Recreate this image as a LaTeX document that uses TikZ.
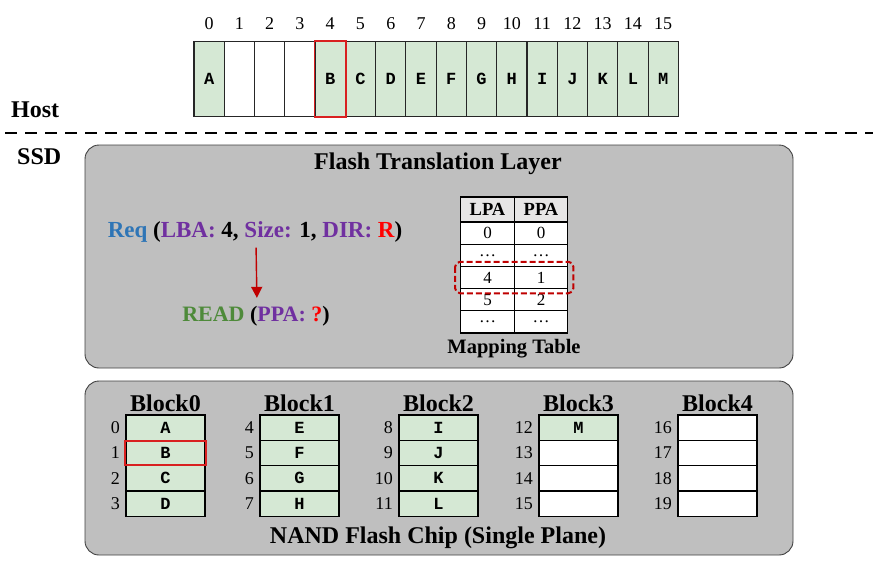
\documentclass[tikz,border=0pt]{standalone}
\usepackage{fontspec}
\setmainfont{Liberation Serif}
\setmonofont{Liberation Mono}
\usetikzlibrary{arrows.meta}
\definecolor{cellgreen}{HTML}{D5E8D4}
\definecolor{panelgray}{HTML}{BFBFBF}
\definecolor{hdrgray}{HTML}{E7E6E6}
\definecolor{reqblue}{HTML}{2E75B6}
\definecolor{purp}{HTML}{7030A0}
\definecolor{readgreen}{HTML}{4E8A3A}
\definecolor{darkred}{HTML}{C00000}
\definecolor{hilite}{HTML}{D92020}
\newcommand\pageletter[1]{\ifcase#1 A\or B\or C\or D\or E\or F\or G\or H\or I\or J\or K\or L\or M\else\fi}
\begin{document}
\begin{tikzpicture}[x=1pt,y=-1pt]
    \tikzstyle{hcell}=[draw=black!85,line width=1.1pt,minimum width=30.27pt,minimum height=75pt,inner sep=0pt,font=\ttfamily\bfseries\fontsize{17}{17}\selectfont]
    \tikzstyle{idx}=[inner sep=0pt,font=\fontsize{18}{18}\selectfont]
    \tikzstyle{panel}=[draw=black!75,line width=0.9pt,fill=panelgray,rounded corners=14pt,inner sep=0pt]
    \tikzstyle{title}=[inner sep=0pt,font=\bfseries\fontsize{24}{24}\selectfont]
    \tikzstyle{tcell}=[draw=black,line width=1.3pt,minimum width=53.5pt,inner sep=0pt,fill=white,font=\fontsize{17}{17}\selectfont]
    \tikzstyle{pcell}=[draw=black,line width=1.3pt,minimum width=79pt,minimum height=25.3pt,inner sep=0pt,font=\ttfamily\bfseries\fontsize{17}{17}\selectfont]
    \tikzstyle{redmark}=[draw=hilite,line width=1.8pt]
    \useasboundingbox (0,0) rectangle (892,566);
    % host logical space
    \foreach \i/\t/\f in {0/A/cellgreen,1//white,2//white,3//white,4/B/cellgreen,5/C/cellgreen,6/D/cellgreen,7/E/cellgreen,8/F/cellgreen,9/G/cellgreen,10/H/cellgreen,11/I/cellgreen,12/J/cellgreen,13/K/cellgreen,14/L/cellgreen,15/M/cellgreen}{
      \node[hcell,fill=\f] (h\i) at ({194+30.27*(\i+0.5)},79) {\t};
      \node[idx] (hn\i) at ({194+30.27*(\i+0.5)},24) {\i};
    }
    \draw[redmark] (h4.south west) rectangle (h4.north east);
    \node[title,anchor=west] (host) at (11,110) {Host};
    \node[title,anchor=west] (ssd) at (17,157) {SSD};
    \coordinate (dl) at (5,133);
    \coordinate (dr) at (873,133);
    \draw[line width=1.8pt,dash pattern=on 12pt off 8pt] (dl) -- (dr);
    % FTL
    \node[panel,minimum width=708pt,minimum height=223pt] (ftl) at (439,256.5) {};
    \node[title] (ftlt) at (438,164) {Flash Translation Layer};
    \node[title,font=\bfseries\fontsize{23}{23}\selectfont] (req) at (255,232) {{\color{reqblue}Req} ({\color{purp}LBA:} 4, {\color{purp}Size:} 1, {\color{purp}DIR:} {\color{red}R})};
    \node[title,font=\bfseries\fontsize{22}{22}\selectfont] (read) at (256,316) {{\color{readgreen}READ} ({\color{purp}PPA:} {\color{red}?})};
    \draw[darkred,line width=1.4pt,-{Triangle[width=11pt,length=11pt]},shorten <=5pt,shorten >=8pt] ([xshift=1pt]req.south) -- ([xshift=1pt]read.north);
    % mapping table
    \node[tcell,fill=hdrgray,minimum height=25pt,font=\bfseries\fontsize{18.5}{18.5}\selectfont] (lpa) at (487.5,209.5) {LPA};
    \node[tcell,fill=hdrgray,minimum height=25pt,font=\bfseries\fontsize{18.5}{18.5}\selectfont] (ppa) at (541,209.5) {PPA};
    \foreach \r/\a/\c in {0/0/0,1/…/…,2/4/1,3/5/2,4/…/…}{
      \node[tcell,minimum height=22.2pt] (t\r l) at (487.5,{222+22.2*(\r+0.5)}) {\a};
      \node[tcell,minimum height=22.2pt] (t\r r) at (541,{222+22.2*(\r+0.5)}) {\c};
    }
    \draw[darkred,line width=2pt,dash pattern=on 6pt off 3pt,rounded corners=5pt] ([xshift=-5pt,yshift=4pt]t2l.north west) rectangle ([xshift=5pt,yshift=-4pt]t2r.south east);
    \node[title,font=\bfseries\fontsize{20.5}{20.5}\selectfont] (mapt) at (514,349) {Mapping Table};
    % NAND chip
    \node[panel,minimum width=708pt,minimum height=174pt] (nand) at (439,468) {};
    \node[title] (nandt) at (438,538) {NAND Flash Chip (Single Plane)};
    \foreach \k/\bx in {0/126,1/260,2/399,3/539,4/678}{
      \node[title,font=\bfseries\fontsize{24}{24}\selectfont] (blk\k) at (\bx+39.5,403) {Block\k};
      \foreach \p in {0,...,3}{
        \pgfmathtruncatemacro\pgnum{4*\k+\p}
        \ifnum\pgnum<13 \def\pf{cellgreen}\else\def\pf{white}\fi
        \node[pcell,fill=\pf] (pg\pgnum) at (\bx+39.5,{415+25.3*(\p+0.5)}) {\pageletter{\pgnum}};
        \node[idx,anchor=east] (pn\pgnum) at (\bx-6,{415+25.3*(\p+0.5)}) {\pgnum};
      }
    }
    \draw[redmark] (pg0.south west) rectangle (pg2.north east);
\end{tikzpicture}
\end{document}
